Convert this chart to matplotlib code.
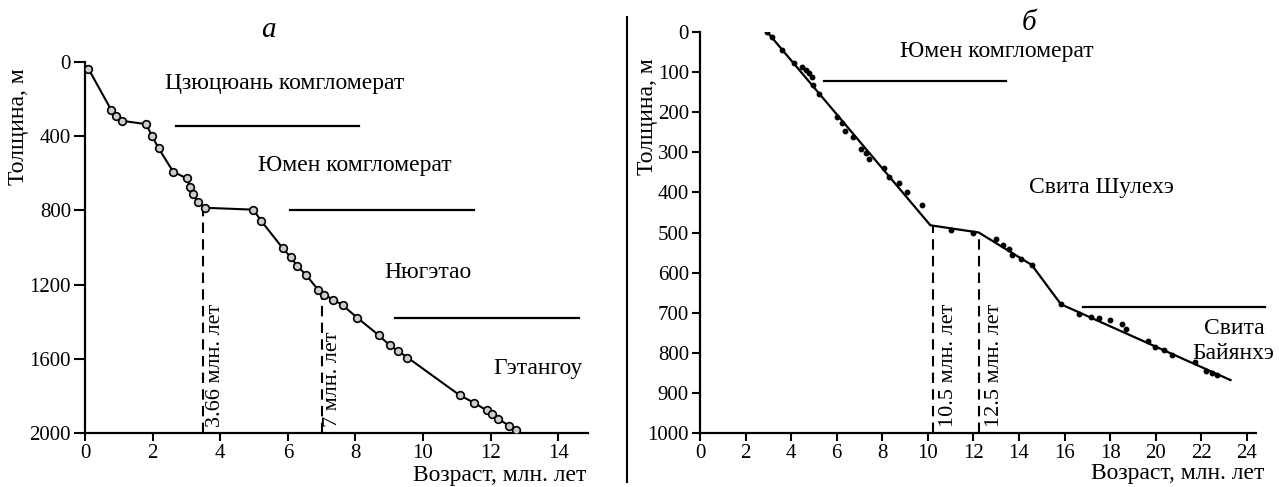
import matplotlib
matplotlib.use('Agg')
import matplotlib.pyplot as plt
from matplotlib.lines import Line2D

plt.rcParams['font.family'] = ['Liberation Serif', 'DejaVu Serif']

# --- panel a: Jiuquan basin section ---
age_a = [0.1, 0.78, 0.93, 1.09, 1.81, 1.98, 2.18, 2.61, 3.02, 3.10, 3.19, 3.33, 3.56,
         4.98, 5.21, 5.85, 6.09, 6.27, 6.55, 6.90, 7.08, 7.35, 7.62, 8.05, 8.69, 9.02,
         9.25, 9.54, 11.08, 11.51, 11.88, 12.05, 12.23, 12.55, 12.76]
thick_a = [36, 260, 289, 317, 335, 398, 466, 592, 628, 673, 712, 755, 786,
           796, 856, 1004, 1053, 1098, 1150, 1229, 1256, 1281, 1311, 1378, 1473, 1528,
           1557, 1593, 1796, 1837, 1878, 1896, 1925, 1961, 1982]
bounds_a = [3.5, 7.0]
bound_tops_a = [790, 1248]
bound_labels_a = ['3.66 млн. лет', '7 млн. лет']
units_a = ['Цзюцюань комгломерат', 'Юмен комгломерат', 'Нюгэтао', 'Гэтангоу']
unit_pos_a = [(5.91, 118), (7.98, 559), (10.14, 1136), (13.4, 1651)]
contacts_a = [(2.68, 8.11, 345), (6.06, 11.52, 800), (9.16, 14.61, 1378)]

# --- panel b: Yumen section ---
age_b = [2.95, 3.17, 3.58, 4.13, 4.48, 4.64, 4.79, 4.92, 4.98, 5.24, 6.00, 6.24, 6.38,
         6.72, 7.07, 7.30, 7.41, 8.08, 8.31, 8.72, 9.09, 9.73, 11.03, 11.98, 12.98,
         13.31, 13.58, 13.71, 14.09, 14.56, 15.84, 16.65, 17.16, 17.51, 17.99, 18.50,
         18.68, 19.67, 19.96, 20.37, 20.70, 21.72, 22.19, 22.45, 22.67]
thick_b = [0, 13, 44, 78, 87, 94, 101, 113, 132, 155, 212, 226, 246,
           261, 291, 302, 316, 340, 361, 377, 400, 432, 494, 502, 517,
           530, 542, 556, 566, 581, 679, 704, 710, 713, 719, 727,
           741, 770, 785, 794, 806, 824, 845, 850, 856]
fit_age_b = [2.95, 10.11, 12.23, 14.56, 15.84, 23.28]
fit_thick_b = [0, 482, 500, 581, 679, 868]
bounds_b = [10.21, 12.23]
bound_tops_b = [483, 500]
bound_labels_b = ['10.5 млн. лет', '12.5 млн. лет']
units_b = ['Юмен комгломерат', 'Свита Шулехэ', 'Свита', 'Байянхэ']
unit_pos_b = [(13.03, 48), (17.62, 389), (23.47, 740), (23.42, 802)]
contacts_b = [(5.42, 13.43, 121), (16.81, 24.78, 685)]

W, H = 1279, 487
fig = plt.figure(figsize=(W / 100, H / 100), dpi=100)

def px_box(x0, y0, x1, y1):
    return [x0 / W, 1 - y1 / H, (x1 - x0) / W, (y1 - y0) / H]

ax1 = fig.add_axes(px_box(85, 62, 588, 433))
ax2 = fig.add_axes(px_box(700, 32, 1256, 433))

for ax in (ax1, ax2):
    ax.spines['top'].set_visible(False)
    ax.spines['right'].set_visible(False)
    for s in ('left', 'bottom'):
        ax.spines[s].set_linewidth(1.6)
    ax.tick_params(direction='out', length=6, width=1.5, labelsize=15, pad=2)

ax1.tick_params(axis='y', length=8)

# panel a
ax1.plot(age_a, thick_a, color='black', lw=1.5, marker='o', ms=5.5,
         mfc='#cccccc', mec='black', mew=1.2, zorder=3)
for x, top in zip(bounds_a, bound_tops_a):
    ax1.plot([x, x], [2000, top], color='black', lw=1.5, ls=(0, (5, 3)))
for (x, lbl) in zip([3.85, 7.33], bound_labels_a):
    ax1.text(x, 1968, lbl, rotation=90, ha='center', va='bottom', fontsize=16)
for lbl, (x, y) in zip(units_a, unit_pos_a):
    ax1.text(x, y, lbl, ha='center', va='center', fontsize=17)
for x0, x1, y in contacts_a:
    ax1.plot([x0, x1], [y, y], color='black', lw=1.6, clip_on=False)
ax1.set_xlim(0, 14.88)
ax1.set_ylim(2000, 0)
ax1.set_xticks(range(0, 15, 2))
ax1.set_yticks(range(0, 2001, 400))

# panel b
ax2.plot(age_b, thick_b, ls='none', marker='o', ms=3.2, color='black', zorder=3)
ax2.plot(fit_age_b, fit_thick_b, color='black', lw=1.6)
for x, top in zip(bounds_b, bound_tops_b):
    ax2.plot([x, x], [1000, top], color='black', lw=1.5, ls=(0, (5, 3)))
for (x, lbl) in zip([10.89, 12.94], bound_labels_b):
    ax2.text(x, 985, lbl, rotation=90, ha='center', va='bottom', fontsize=16)
for lbl, (x, y) in zip(units_b, unit_pos_b):
    ax2.text(x, y, lbl, ha='center', va='center', fontsize=17, clip_on=False)
for x0, x1, y in contacts_b:
    ax2.plot([x0, x1], [y, y], color='black', lw=1.6, clip_on=False)
ax2.set_xlim(0, 24.4)
ax2.set_ylim(1000, 0)
ax2.set_xticks(range(0, 25, 2))
ax2.set_yticks(range(0, 1001, 100))

# axis titles and panel letters
fig.text(19 / W, 1 - 127 / H, 'Толщина, м', rotation=90, ha='center', va='center', fontsize=17)
fig.text(648 / W, 1 - 117 / H, 'Толщина, м', rotation=90, ha='center', va='center', fontsize=17)
fig.text(586 / W, 1 - 476 / H, 'Возраст, млн. лет', ha='right', va='center', fontsize=17)
fig.text(1264 / W, 1 - 474 / H, 'Возраст, млн. лет', ha='right', va='center', fontsize=17)
fig.text(268 / W, 1 - 30 / H, 'а', style='italic', ha='center', va='center', fontsize=21)
fig.text(1029 / W, 1 - 23 / H, 'б', style='italic', ha='center', va='center', fontsize=21)

# divider between the panels
fig.add_artist(Line2D([627 / W, 627 / W], [1 - 482 / H, 1 - 17 / H], color='black', lw=1.5))

fig.savefig('out.png', dpi=100)
